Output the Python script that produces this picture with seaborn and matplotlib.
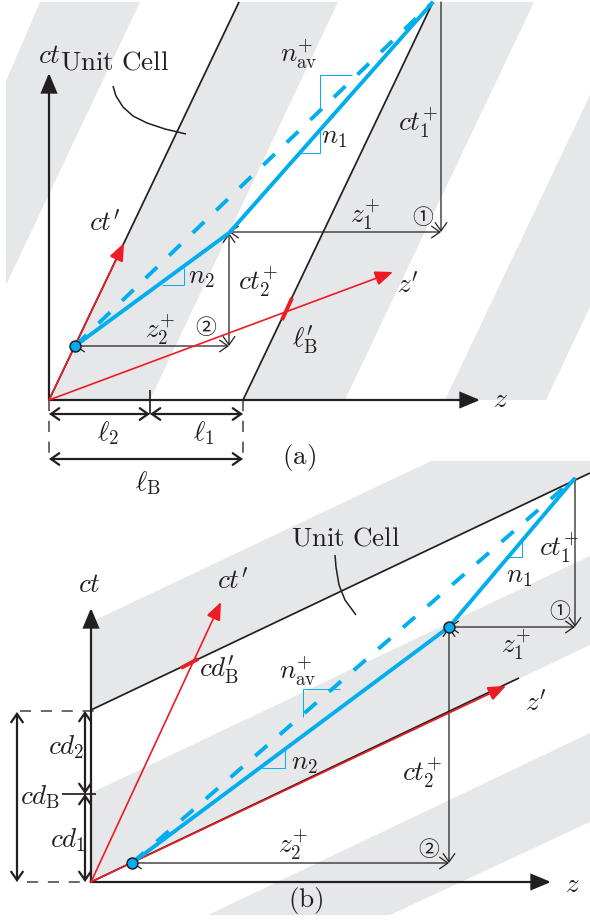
import matplotlib
matplotlib.use("Agg")
import matplotlib.pyplot as plt
import seaborn as sns

sns.set_theme(style="white")
plt.rcParams["mathtext.fontset"] = "cm"
plt.rcParams["font.family"] = ["DejaVu Sans"]
plt.rcParams["lines.scale_dashes"] = False

BLACK = "#231F20"
RED = "#ED1C24"
BLUE = "#00AEEF"
GRAY = "#E6E7E8"

# ---------- gray bands (pixel frame of the picture) ----------
bands = [
    [(40, 2), (140, 2), (6, 285), (6, 81)],
    [(239, 2), (338, 2), (150, 400), (49, 400)],
    [(433, 2), (534, 2), (345, 400), (243, 400)],
    [(590, 95), (590, 307), (546, 400), (445, 400)],
    [(431, 461), (590, 461), (590, 473), (91, 710), (91, 622)],
    [(91, 793), (590, 556), (590, 645), (91, 882)],
    [(590, 733), (590, 822), (390, 915), (208, 915)],
]

# ---------- plain lines ----------
black_lines = [
    [(49, 400), (239, 2)],
    [(243, 400), (433, 2)],
    [(91, 710), (590, 473)],
    [(91, 882), (519, 678)],
    [(150, 390), (150, 414)],
    [(62, 794), (96, 794)],
]
dashed_black = [
    [(49, 400), (49, 462)],
    [(243, 400), (243, 462)],
    [(20, 711), (101, 711)],
    [(27, 882), (91, 882)],
]
leaders = [
    [(113, 86), (116, 96), (123, 107), (133, 116), (147, 123), (165, 129), (186, 134)],
    [(335, 555), (336, 567), (339, 585), (345, 600), (356, 615)],
]
thin_blue = [
    [(352, 75), (320, 75), (320, 108)],
    [(301, 153), (320, 153), (320, 130)],
    [(162, 285), (184, 285), (184, 268)],
    [(340, 689), (303, 689), (303, 717)],
    [(508, 557), (522, 557), (522, 542)],
    [(262, 768), (285, 768), (285, 750)],
]
red_ticks = [[(282, 320), (292, 298)], [(181, 668), (198, 659)]]

# ---------- rays ----------
solid_rays = [
    [(75, 346), (229, 233), (433, 2)],
    [(132, 863), (449, 627), (575, 478)],
]
dashed_rays = [[(75, 346), (433, 2)], [(132, 863), (575, 478)]]
junctions_x = [75, 132, 449]
junctions_y = [346, 863, 627]

# ---------- arrows: (start, end) ----------
axes_arrows = [
    ((49, 400), (49, 73)),
    ((49, 400), (480, 400)),
    ((91, 882), (91, 608)),
    ((91, 882), (551, 882)),
]
red_arrows = [
    ((49, 400), (124, 243)),
    ((49, 400), (393, 272)),
    ((91, 882), (221, 602)),
    ((91, 882), (506, 686)),
]
thin_double = [
    ((229, 232), (441, 232)),
    ((229, 233), (229, 346)),
    ((75, 346), (229, 346)),
    ((449, 627), (575, 627)),
    ((449, 627), (449, 863)),
    ((132, 863), (449, 863)),
]
thin_single = [((441, 2), (441, 232)), ((575, 478), (575, 627))]
thick_double = [
    ((49, 414), (150, 414)),
    ((150, 414), (243, 414)),
    ((49, 459), (243, 459)),
    ((85, 711), (85, 794)),
    ((85, 794), (85, 882)),
    ((17, 712), (17, 882)),
]

# ---------- labels ----------
label_x = [49, 105, 299, 334, 418, 365, 201, 258, 408, 160, 305, 500, 108, 204, 148,
           89, 233, 519, 559, 516, 219, 298, 304, 66, 40, 68, 422, 536, 293, 572]
label_y = [56, 223, 55, 137, 123, 215, 277, 282, 285, 330, 340, 400, 433, 433, 483,
           585, 581, 576, 548, 645, 670, 672, 763, 747, 797, 840, 773, 703, 845, 885]
label_text = [
    r"$ct$", r"$ct'$", r"$n_{\mathrm{av}}^{+}$", r"$n_1$", r"$ct_1^{+}$", r"$z_1^{+}$",
    r"$n_2$", r"$ct_2^{+}$", r"$z'$", r"$z_2^{+}$", r"$\ell_{\mathrm{B}}'$", r"$z$",
    r"$\ell_2$", r"$\ell_1$", r"$\ell_{\mathrm{B}}$",
    r"$ct$", r"$ct'$", r"$n_1$", r"$ct_1^{+}$", r"$z_1^{+}$", r"$cd_{\mathrm{B}}'$",
    r"$n_{\mathrm{av}}^{+}$", r"$n_2$", r"$cd_2$", r"$cd_{\mathrm{B}}$", r"$cd_1$",
    r"$ct_2^{+}$", r"$z'$", r"$z_2^{+}$", r"$z$",
]
roman_x = [115, 346, 299, 306]
roman_y = [63, 538, 457, 900]
roman_text = [r"$\mathrm{Unit\ Cell}$", r"$\mathrm{Unit\ Cell}$", r"$\mathrm{(a)}$", r"$\mathrm{(b)}$"]
circled_x = [423, 206, 560, 429]
circled_y = [218, 328, 612, 850]
circled_text = ["①", "②", "①", "②"]

fig = plt.figure(figsize=(5.9, 9.21), dpi=100)
ax = fig.add_axes([0, 0, 1, 1])


def draw(points, color, lw, z, dash=None):
    xs = [p[0] for p in points]
    ys = [p[1] for p in points]
    sns.lineplot(x=xs, y=ys, color=color, linewidth=lw, sort=False, estimator=None,
                 errorbar=None, zorder=z, ax=ax, legend=False)
    line = ax.lines[-1]
    line.set_solid_capstyle("butt")
    if dash:
        line.set_dashes(dash)
        line.set_dash_capstyle("butt")


def arrow(start, end, style, color, lw, z):
    ax.annotate("", xy=end, xytext=start, zorder=z,
                arrowprops=dict(arrowstyle=style, color=color, lw=lw, shrinkA=0, shrinkB=0,
                                mutation_scale=10, joinstyle="miter"))


for poly in bands:
    ax.fill([p[0] for p in poly], [p[1] for p in poly], color=GRAY, lw=0, zorder=1)
for seg in black_lines:
    draw(seg, BLACK, 1.25, 3)
for seg in dashed_black:
    draw(seg, "#404040", 1.1, 3, dash=(8, 7))
for seg in leaders:
    draw(seg, BLACK, 1.1, 3)
for seg in thin_blue:
    draw(seg, BLUE, 0.7, 4)
for s, e in axes_arrows:
    arrow(s, e, "-|>,head_length=1.2,head_width=0.5", BLACK, 1.6, 5)
for s, e in thin_double:
    arrow(s, e, "<->,head_length=0.6,head_width=0.42", BLACK, 0.9, 5)
for s, e in thin_single:
    arrow(s, e, "->,head_length=0.6,head_width=0.42", BLACK, 0.9, 5)
for s, e in thick_double:
    arrow(s, e, "<->,head_length=0.6,head_width=0.42", BLACK, 1.6, 5)
for s, e in red_arrows:
    arrow(s, e, "-|>,head_length=1.1,head_width=0.45", RED, 1.2, 6)
for seg in red_ticks:
    draw(seg, RED, 2.8, 6)
for seg in solid_rays:
    draw(seg, BLUE, 2.8, 7)
for seg in dashed_rays:
    draw(seg, BLUE, 2.8, 7, dash=(11.5, 12))
sns.scatterplot(x=junctions_x, y=junctions_y, color=BLUE, edgecolor=BLACK, linewidth=1.1,
                s=62, zorder=8, ax=ax, legend=False)

for x, y, t in zip(label_x, label_y, label_text):
    ax.text(x, y, t, ha="center", va="center", fontsize=19.5, color=BLACK, zorder=9)
for x, y, t in zip(roman_x, roman_y, roman_text):
    ax.text(x, y, t, ha="center", va="center", fontsize=19.5, color=BLACK, zorder=9)
for x, y, t in zip(circled_x, circled_y, circled_text):
    ax.text(x, y, t, ha="center", va="center", fontsize=15, color=BLACK, zorder=9,
            family=["Noto Sans CJK JP", "DejaVu Sans"])

ax.set_xlim(0, 590)
ax.set_ylim(921, 0)
ax.axis("off")
fig.savefig("out.png", dpi=100, facecolor="white")
